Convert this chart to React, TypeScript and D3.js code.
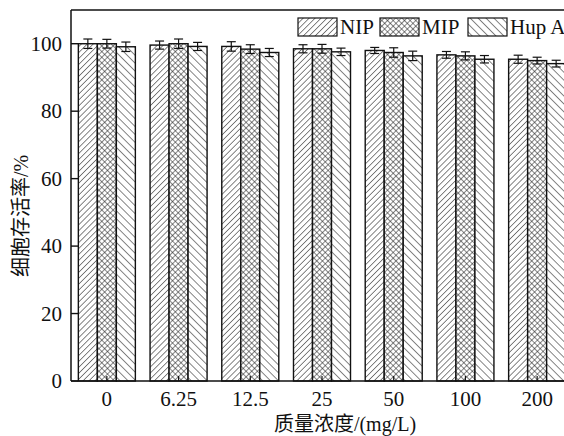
import React from "react";
import * as d3 from "d3";

const categories = ["0", "6.25", "12.5", "25", "50", "100", "200"];
const seriesNames = ["NIP", "MIP", "Hup A"];
const nipValues = [100.0, 99.6, 99.2, 98.5, 98.0, 96.7, 95.4];
const mipValues = [100.0, 100.0, 98.4, 98.5, 97.4, 96.4, 95.0];
const hupValues = [99.1, 99.2, 97.4, 97.6, 96.4, 95.4, 94.1];
const nipErr = [1.4, 1.2, 1.4, 1.2, 0.9, 1.0, 1.2];
const mipErr = [1.3, 1.4, 1.3, 1.3, 1.4, 1.2, 1.0];
const hupErr = [1.4, 1.2, 1.2, 1.1, 1.4, 1.1, 1.0];
const yTicks = [0, 20, 40, 60, 80, 100];

const W = 564;
const H = 436;
const left = 71;
const right = 573;
const top = 10;
const bottom = 381;
const font = "'Liberation Serif', 'Times New Roman', serif";
const cjkFont = "'Liberation Serif', 'Noto Sans CJK SC', serif";

export default function App() {
  const x = d3.scaleBand<string>().domain(categories).range([left, right]).paddingInner(0.205).paddingOuter(0.1025);
  const x1 = d3.scaleBand<string>().domain(seriesNames).range([0, x.bandwidth()]);
  const y = d3.scaleLinear().domain([0, 110]).range([bottom, top]);
  const series = [
    { name: "NIP", vals: nipValues, errs: nipErr, fill: "url(#pNIP)" },
    { name: "MIP", vals: mipValues, errs: mipErr, fill: "url(#pMIP)" },
    { name: "Hup A", vals: hupValues, errs: hupErr, fill: "url(#pHUP)" },
  ];
  const legendX = [298, 380, 468];
  return (
    <svg width={W} height={H} style={{ position: "absolute", left: 0, top: 0, background: "#fff" }}>
      <defs>
        <pattern id="pNIP" patternUnits="userSpaceOnUse" width={4.2} height={4.2} patternTransform="rotate(45)">
          <rect width={4.2} height={4.2} fill="#fff" />
          <line x1={0} y1={0} x2={0} y2={4.2} stroke="#222" strokeWidth={1.1} />
        </pattern>
        <pattern id="pMIP" patternUnits="userSpaceOnUse" width={4} height={4} patternTransform="rotate(45)">
          <rect width={4} height={4} fill="#fff" />
          <line x1={0} y1={0} x2={0} y2={4} stroke="#222" strokeWidth={1.1} />
          <line x1={0} y1={0} x2={4} y2={0} stroke="#222" strokeWidth={1.1} />
        </pattern>
        <pattern id="pHUP" patternUnits="userSpaceOnUse" width={5.6} height={5.6} patternTransform="rotate(-45)">
          <rect width={5.6} height={5.6} fill="#fff" />
          <line x1={0} y1={0} x2={0} y2={5.6} stroke="#222" strokeWidth={1.1} />
        </pattern>
      </defs>
      {categories.map((c, i) => (
        <g key={c}>
          {series.map((s) => {
            const bx = (x(c) as number) + (x1(s.name) as number);
            const bw = x1.bandwidth();
            const v = s.vals[i];
            return (
              <rect key={s.name} x={bx} y={y(v)} width={bw} height={bottom - y(v)} fill={s.fill} stroke="#111" strokeWidth={1.4} />
            );
          })}
          {series.map((s) => {
            const cx = (x(c) as number) + (x1(s.name) as number) + x1.bandwidth() / 2;
            const v = s.vals[i];
            const e = s.errs[i];
            return (
              <g key={s.name + "e"} stroke="#111" strokeWidth={1.2}>
                <line x1={cx} x2={cx} y1={y(v + e)} y2={y(v - e)} />
                <line x1={cx - 4.5} x2={cx + 4.5} y1={y(v + e)} y2={y(v + e)} />
                <line x1={cx - 4.5} x2={cx + 4.5} y1={y(v - e)} y2={y(v - e)} />
              </g>
            );
          })}
          <line x1={(x(c) as number) + x.bandwidth() / 2} x2={(x(c) as number) + x.bandwidth() / 2} y1={bottom} y2={bottom - 5} stroke="#111" strokeWidth={1.2} />
          <text x={(x(c) as number) + x.bandwidth() / 2} y={bottom + 25} textAnchor="middle" fontFamily={font} fontSize={21} fill="#111">{c}</text>
        </g>
      ))}
      <line x1={left} x2={right} y1={top} y2={top} stroke="#111" strokeWidth={1.5} />
      <line x1={left} x2={right} y1={bottom} y2={bottom} stroke="#111" strokeWidth={1.5} />
      <line x1={left} x2={left} y1={top} y2={bottom} stroke="#111" strokeWidth={1.5} />
      {yTicks.map((t) => (
        <g key={t}>
          <line x1={left} x2={left + 7} y1={y(t)} y2={y(t)} stroke="#111" strokeWidth={1.4} />
          <text x={left - 9} y={y(t) + 7} textAnchor="end" fontFamily={font} fontSize={21} fill="#111">{t}</text>
        </g>
      ))}
      {series.map((s, i) => (
        <g key={s.name}>
          <rect x={legendX[i]} y={18} width={39} height={18} fill={s.fill} stroke="#111" strokeWidth={1.2} />
          <text x={legendX[i] + 42} y={34} fontFamily={font} fontSize={21} fill="#111">{s.name}</text>
        </g>
      ))}
      <text x={345} y={431} textAnchor="middle" fontFamily={cjkFont} fontSize={20} fill="#111">质量浓度/(mg/L)</text>
      <text transform={`translate(28,216) rotate(-90)`} textAnchor="middle" fontFamily={cjkFont} fontSize={20} fill="#111">细胞存活率/%</text>
    </svg>
  );
}
